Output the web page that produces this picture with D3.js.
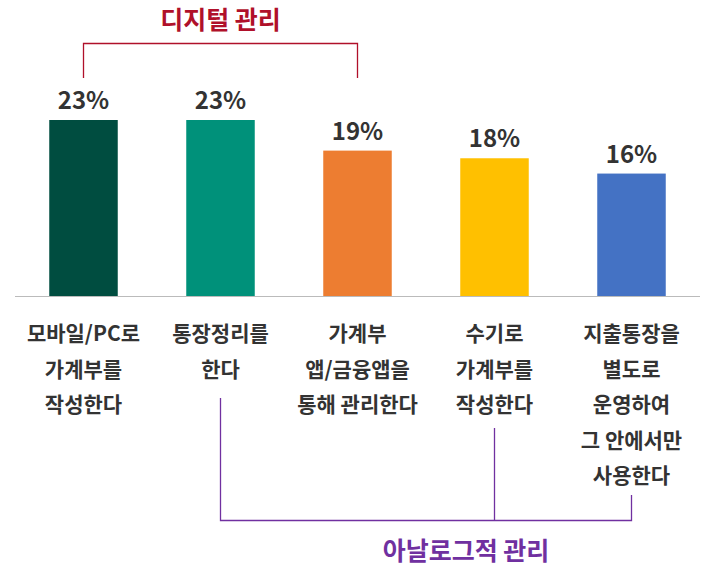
<!DOCTYPE html><html><head><meta charset="utf-8"><script src="https://cdn.jsdelivr.net/npm/d3@7"></script>
<style>body{margin:0;background:#fff}</style></head><body><svg id="c" width="720" height="574"></svg>
<script>
const categories=[["모바일/PC로","가계부를","작성한다"],["통장정리를","한다"],["가계부","앱/금융앱을","통해 관리한다"],["수기로","가계부를","작성한다"],["지출통장을","별도로","운영하여","그 안에서만","사용한다"]];
const values=[23,23,19,18,16];
const colors=["#004D40","#00917A","#ED7D31","#FFC000","#4472C4"];
const svg=d3.select("#c");const font="'Noto Sans CJK KR','Noto Sans',sans-serif";
const x=d3.scaleBand().domain(d3.range(5)).range([15,700]).paddingInner(0.5).paddingOuter(0.25);
const y=d3.scaleLinear().domain([0,23]).range([296,120]);
svg.selectAll("rect").data(values).join("rect").attr("x",(d,i)=>x(i)).attr("width",x.bandwidth()).attr("y",d=>y(d)).attr("height",d=>296-y(d)).attr("fill",(d,i)=>colors[i]);
svg.append("line").attr("x1",15).attr("x2",700).attr("y1",296.5).attr("y2",296.5).attr("stroke","#bbb");
const cx=i=>x(i)+x.bandwidth()/2;
svg.selectAll(".v").data(values).join("text").attr("x",(d,i)=>cx(i)).attr("y",d=>y(d)-11).attr("text-anchor","middle").attr("font-family",font).attr("font-weight","bold").attr("font-size",24).attr("fill","#333").text(d=>d+"%");
categories.forEach((c,i)=>c.forEach((t,j)=>svg.append("text").attr("x",cx(i)).attr("y",341+j*35.5).attr("text-anchor","middle").attr("font-family",font).attr("font-weight","bold").attr("font-size",21).attr("fill","#333").text(t)));
const red="#B0102A",pur="#7030A0";
svg.append("path").attr("d",`M${cx(0)},78V43.5H${cx(2)}V78`).attr("fill","none").attr("stroke",red).attr("stroke-width",1.3);
svg.append("text").attr("x",cx(1)).attr("y",29).attr("text-anchor","middle").attr("font-family",font).attr("font-weight","bold").attr("font-size",25).attr("fill",red).text("디지털 관리");
svg.append("path").attr("d",`M${cx(1)},398V520.5H${cx(4)}V495M${cx(3)},428V520`).attr("fill","none").attr("stroke",pur).attr("stroke-width",1.3);
svg.append("text").attr("x",466).attr("y",560).attr("text-anchor","middle").attr("font-family",font).attr("font-weight","bold").attr("font-size",25).attr("fill",pur).text("아날로그적 관리");
</script></body></html>
